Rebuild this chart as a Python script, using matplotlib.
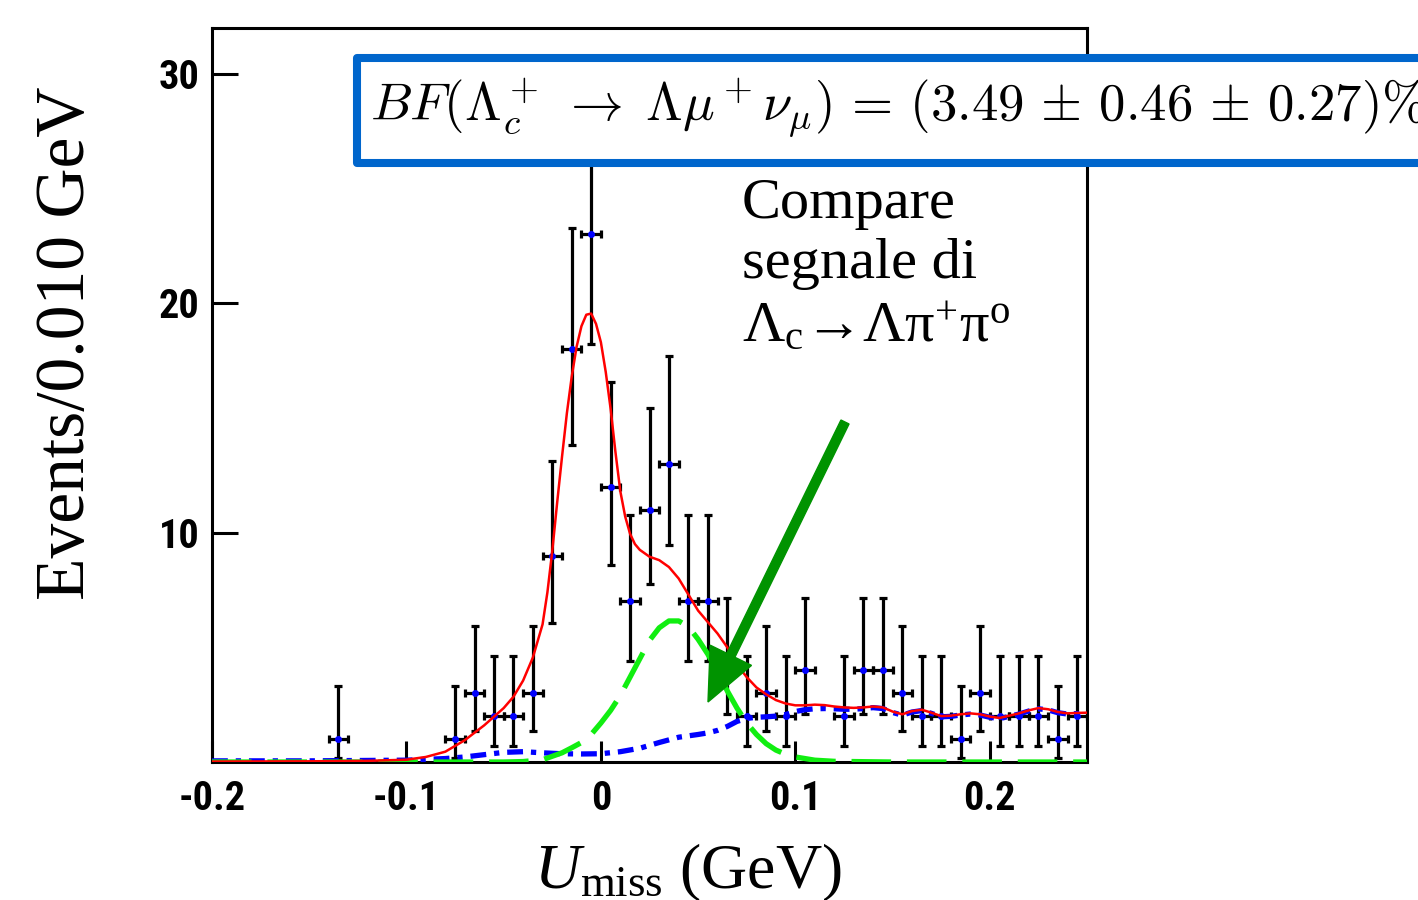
import matplotlib.pyplot as plt
import matplotlib.patches as mpatches
import numpy as np

# Binned U_miss data (bin width 0.010 GeV), empty bins left out
bin_centers = [-0.135, -0.075, -0.065, -0.055, -0.045, -0.035, -0.025, -0.015, -0.005,
               0.005, 0.015, 0.025, 0.035, 0.045, 0.055, 0.065, 0.075, 0.085, 0.095,
               0.105, 0.125, 0.135, 0.145, 0.155, 0.165, 0.175, 0.185, 0.195, 0.205,
               0.215, 0.225, 0.235, 0.245]
counts = [1, 1, 3, 2, 2, 3, 9, 18, 23,
          12, 7, 11, 13, 7, 7, 4, 2, 3, 2,
          4, 2, 4, 4, 3, 2, 2, 1, 3, 2,
          2, 2, 1, 2]
# asymmetric Poisson errors per bin
err_low = [0.83, 0.83, 1.63, 1.29, 1.29, 1.63, 2.94, 4.20, 4.77,
           3.41, 2.58, 3.26, 3.55, 2.58, 2.58, 1.91, 1.29, 1.63, 1.29,
           1.91, 1.29, 1.91, 1.91, 1.63, 1.29, 1.29, 0.83, 1.63, 1.29,
           1.29, 1.29, 0.83, 1.29]
err_high = [2.30, 2.30, 2.92, 2.64, 2.64, 2.92, 4.11, 5.30, 5.86,
            4.56, 3.77, 4.42, 4.70, 3.77, 3.77, 3.16, 2.64, 2.92, 2.64,
            3.16, 2.64, 3.16, 3.16, 2.92, 2.64, 2.64, 2.30, 2.92, 2.64,
            2.64, 2.64, 2.30, 2.64]

# total fit
fit_x = [-0.200, -0.150, -0.120, -0.100, -0.090, -0.080, -0.070, -0.060, -0.050, -0.045,
         -0.040, -0.035, -0.030, -0.0275, -0.025, -0.0225, -0.020, -0.0175, -0.015, -0.0125,
         -0.010, -0.0075, -0.005, -0.0025, 0.000, 0.0025, 0.005, 0.0075, 0.010, 0.0125,
         0.015, 0.0175, 0.020, 0.025, 0.030, 0.035, 0.040, 0.045, 0.050, 0.055,
         0.060, 0.065, 0.070, 0.075, 0.080, 0.085, 0.090, 0.095, 0.100, 0.105,
         0.110, 0.115, 0.120, 0.125, 0.130, 0.135, 0.140, 0.145, 0.150, 0.155,
         0.160, 0.165, 0.170, 0.175, 0.180, 0.185, 0.190, 0.195, 0.200, 0.205,
         0.210, 0.215, 0.220, 0.225, 0.230, 0.235, 0.240, 0.245, 0.250]
fit_y = [0.02, 0.03, 0.05, 0.10, 0.22, 0.45, 0.95, 1.60, 2.35, 2.84,
         3.55, 4.55, 6.00, 7.40, 9.20, 11.3, 13.3, 15.2, 16.8, 18.1,
         19.0, 19.5, 19.55, 19.1, 18.3, 17.0, 15.4, 13.5, 11.8, 10.7,
         9.95, 9.50, 9.25, 8.95, 8.80, 8.50, 8.00, 7.30, 6.60, 6.10,
         5.60, 5.00, 4.25, 3.70, 3.25, 2.95, 2.70, 2.55, 2.47, 2.47,
         2.50, 2.48, 2.42, 2.38, 2.36, 2.38, 2.42, 2.38, 2.20, 2.08,
         2.22, 2.28, 2.15, 2.00, 2.02, 2.08, 2.12, 2.08, 1.98, 1.92,
         2.02, 2.12, 2.25, 2.35, 2.30, 2.18, 2.12, 2.14, 2.15]

# Lambda_c -> Lambda pi+ pi0 peaking component
pipi_x = [-0.200, -0.050, -0.040, -0.030, -0.020, -0.015, -0.010, -0.005, 0.000, 0.005,
          0.010, 0.015, 0.020, 0.025, 0.030, 0.035, 0.040, 0.045, 0.050, 0.055,
          0.060, 0.065, 0.070, 0.075, 0.080, 0.085, 0.090, 0.095, 0.100, 0.110,
          0.120, 0.150, 0.250]
pipi_y = [0.0, 0.0, 0.02, 0.10, 0.40, 0.62, 0.85, 1.20, 1.70, 2.25,
          2.90, 3.70, 4.50, 5.30, 5.85, 6.15, 6.15, 5.90, 5.35, 4.70,
          3.95, 3.10, 2.35, 1.70, 1.20, 0.80, 0.52, 0.34, 0.22, 0.08,
          0.03, 0.0, 0.0]

# combinatorial background
bkg_x = [-0.200, -0.150, -0.100, -0.080, -0.070, -0.060, -0.050, -0.040, -0.030, -0.020,
         -0.010, 0.000, 0.010, 0.020, 0.030, 0.040, 0.050, 0.055, 0.060, 0.065,
         0.070, 0.075, 0.080, 0.085, 0.090, 0.095, 0.100, 0.105, 0.110, 0.115,
         0.120, 0.125, 0.130, 0.135, 0.140, 0.145, 0.150, 0.155, 0.160, 0.165,
         0.170, 0.175, 0.180, 0.185, 0.190, 0.195, 0.200, 0.205, 0.210, 0.215,
         0.220, 0.225, 0.230, 0.235, 0.240, 0.245, 0.250]
bkg_y = [0.05, 0.05, 0.08, 0.15, 0.22, 0.32, 0.42, 0.45, 0.40, 0.36,
         0.35, 0.36, 0.45, 0.60, 0.85, 1.08, 1.20, 1.27, 1.38, 1.55,
         1.77, 1.90, 1.95, 1.97, 2.00, 2.07, 2.20, 2.28, 2.32, 2.33,
         2.32, 2.30, 2.30, 2.33, 2.37, 2.33, 2.16, 2.04, 2.18, 2.24,
         2.12, 1.97, 1.99, 2.05, 2.09, 2.05, 1.95, 1.89, 1.99, 2.09,
         2.22, 2.32, 2.27, 2.15, 2.09, 2.11, 2.12]

x_ticks = [-0.2, -0.1, 0.0, 0.1, 0.2]
x_tick_labels = ['-0.2', '-0.1', '0', '0.1', '0.2']
y_ticks = [10, 20, 30]

plt.rcParams['mathtext.fontset'] = 'custom'
plt.rcParams['mathtext.rm'] = 'Liberation Serif'
plt.rcParams['mathtext.it'] = 'Liberation Serif:italic'

W, H = 1418, 900
fig = plt.figure(figsize=(W / 100, H / 100), dpi=100)
ax = fig.add_axes([212 / W, 138 / H, 875 / W, 734 / H])

ax.errorbar(bin_centers, counts, xerr=0.005, yerr=[err_low, err_high], fmt='o',
            ms=4, mfc='blue', mec='blue', ecolor='black', elinewidth=2.3,
            capsize=3.2, capthick=2.3, zorder=2)
ax.plot(bkg_x, bkg_y, color='blue', lw=3.8, ls=(0, (3.0, 1.5, 1.0, 1.5)), zorder=3)
ax.plot(pipi_x, pipi_y, color='#11ee11', lw=3.8, ls=(0, (7.5, 3.0)), zorder=4)
ax.plot(fit_x, fit_y, color='red', lw=1.8, zorder=5)

ax.set_xlim(-0.2, 0.25)
ax.set_ylim(0, 32)
ax.set_xticks(x_ticks)
ax.set_xticklabels(x_tick_labels)
ax.set_yticks(y_ticks)
tick_font = {'family': ['Liberation Sans Narrow', 'Roboto Condensed', 'Open Sans Condensed',
                        'Liberation Sans'],
             'weight': 'bold', 'size': 29}
for lab in ax.get_xticklabels() + ax.get_yticklabels():
    lab.set_fontproperties(tick_font)
ax.tick_params(axis='y', direction='in', length=18.5, width=2.2, pad=9)
ax.tick_params(axis='x', direction='in', length=15, width=2.2, pad=13)
for sp in ax.spines.values():
    sp.set_linewidth(2.2)

fig.text(67 / W, 1 - 343 / H, 'Events/0.010 GeV', rotation=90, ha='center', va='center',
         family='Liberation Serif', fontsize=50)
fig.text(688 / W, 1 - 888 / H, r'$U_{\mathrm{miss}}$ (GeV)', ha='center', va='baseline',
         family='Liberation Serif', fontsize=46)

# branching fraction result
box = mpatches.Rectangle((357 / W, 1 - 163 / H), (1460 - 357) / W, 105 / H,
                         transform=fig.transFigure, facecolor='white', edgecolor='#0066cc',
                         lw=5.8, joinstyle='round', zorder=10)
fig.add_artist(box)
fig.text(370 / W, 1 - 120 / H,
         r'$BF(\Lambda_c^+ \;\rightarrow\; \Lambda\mu^+\nu_\mu) \,=\, '
         r'(3.49 \,\pm\, 0.46 \,\pm\, 0.27)\%$',
         math_fontfamily='cm', fontsize=38, va='baseline', zorder=11)

# note on the peaking background
note_font = dict(family='Liberation Serif', fontsize=42, va='baseline')
fig.text(742 / W, 1 - 218 / H, 'Compare', **note_font)
fig.text(742 / W, 1 - 278 / H, 'segnale di', **note_font)
fig.text(742 / W, 1 - 341 / H, r'$\mathrm{Λ_c → Λπ^{+}π^{o}}$', **note_font)

arrow = mpatches.FancyArrow(8.45, 4.78, -1.37, -2.80, width=0.09, head_width=0.46,
                            head_length=0.52, length_includes_head=True,
                            color='#009300', transform=fig.dpi_scale_trans, zorder=12)
fig.add_artist(arrow)

fig.savefig('out.png', dpi=100)
